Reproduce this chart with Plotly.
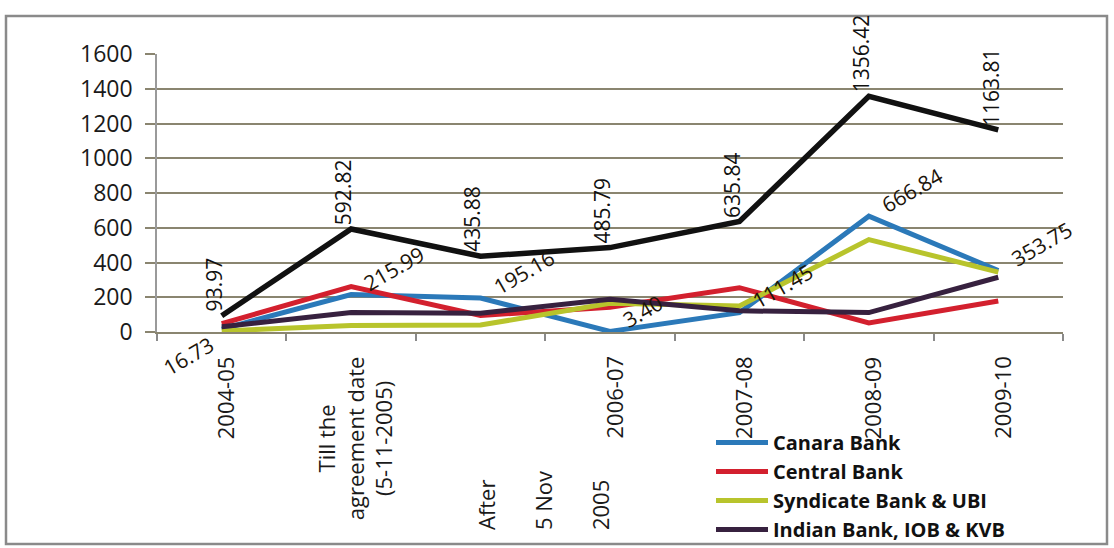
import plotly.graph_objects as go

# ---- data -------------------------------------------------------------
categories = [
    "2004-05",
    "Till the<br>agreement date<br>(5-11-2005)",
    "After<br><br>5 Nov<br><br>2005",
    "2006-07",
    "2007-08",
    "2008-09",
    "2009-10",
]
canara = [16.73, 215.99, 195.16, 3.40, 111.45, 666.84, 353.75]
central = [48, 262, 95, 143, 255, 52, 178]
syndicate = [6, 38, 40, 165, 150, 532, 345]
indian = [30, 112, 108, 188, 122, 112, 315]
total = [93.97, 592.82, 435.88, 485.79, 635.84, 1356.42, 1163.81]
y_ticks = [0, 200, 400, 600, 800, 1000, 1200, 1400, 1600]

series_names = ["Canara Bank", "Central Bank", "Syndicate Bank & UBI", "Indian Bank, IOB & KVB"]
series_values = [canara, central, syndicate, indian]
series_colors = ["#2b79b9", "#d3202e", "#b8c42c", "#37213f"]

# ---- geometry ---------------------------------------------------------
W, H = 1114, 548
L, R, T, B = 157, 51, 54, 216
plot_h = H - T - B
plot_w = W - L - R
FONT = "Open Sans"


def px_x(px):
    return (px - L) / plot_w


def px_y(py):
    return (H - B - py) / plot_h


x_idx = list(range(len(categories)))

fig = go.Figure()

for name, vals, col in zip(series_names, series_values, series_colors):
    fig.add_trace(go.Scatter(
        x=x_idx, y=vals, mode="lines", name=name,
        line=dict(color=col, width=5),
    ))

fig.add_trace(go.Scatter(
    x=x_idx, y=total, mode="lines", name="Total", showlegend=False,
    line=dict(color="#111111", width=5.5),
))

annotations = []

# category labels under the axis (rotated)
for i, lab in enumerate(categories):
    if "After" in lab:
        annotations.append(dict(
            x=i, y=0, xref="x", yref="paper", text=lab, showarrow=False,
            textangle=-90, xanchor="center", yanchor="top", align="left",
            xshift=62, yshift=-137,
            font=dict(family=FONT, size=22, color="#1a1a1a"),
        ))
    else:
        annotations.append(dict(
            x=i, y=0, xref="x", yref="paper", text=lab, showarrow=False,
            textangle=-90, xanchor="center", yanchor="top", align="center",
            xshift=3, yshift=-22,
            font=dict(family=FONT, size=22, color="#1a1a1a"),
        ))

# value labels on the total line
for i, v in enumerate(total):
    annotations.append(dict(
        x=i, y=v, xref="x", yref="y", text=f"{v:.2f}", showarrow=False,
        textangle=-90, xanchor="center", yanchor="bottom",
        xshift=-8, yshift=2,
        font=dict(family=FONT, size=21, color="#111111"),
    ))

# value labels on the Canara Bank line
for i, v in enumerate(canara):
    if i == 0:
        pos = dict(xanchor="right", yanchor="top", xshift=0, yshift=1)
    else:
        pos = dict(xanchor="left", yanchor="bottom", xshift=5, yshift=-5)
    annotations.append(dict(
        x=i, y=v, xref="x", yref="y", text=f"{v:.2f}", showarrow=False,
        textangle=-30, font=dict(family=FONT, size=21, color="#1c140a"),
        **pos,
    ))

shapes = [
    dict(type="rect", xref="paper", yref="paper",
         x0=px_x(6), x1=px_x(1107), y0=px_y(544), y1=px_y(16),
         line=dict(color="#8a8a8a", width=2.5), fillcolor="rgba(0,0,0,0)",
         layer="below"),
]

fig.update_layout(
    width=W, height=H,
    margin=dict(l=L, r=R, t=T, b=B, autoexpand=False),
    paper_bgcolor="white", plot_bgcolor="white",
    font=dict(family=FONT, color="#1a1a1a"),
    annotations=annotations,
    shapes=shapes,
    showlegend=True,
    legend=dict(
        x=px_x(711), y=px_y(423), xanchor="left", yanchor="top",
        xref="paper", yref="paper",
        bgcolor="rgba(255,255,255,0)", borderwidth=0,
        font=dict(family=FONT, size=20, color="#111111", weight="bold"),
        itemwidth=52, tracegroupgap=0,
    ),
)

fig.update_xaxes(
    range=[-0.5, len(categories) - 0.5],
    tickmode="array",
    tickvals=[i - 0.5 for i in range(len(categories) + 1)],
    showticklabels=False,
    ticks="outside", ticklen=7, tickwidth=1.5, tickcolor="#8a8a8a",
    showgrid=False, zeroline=False,
    showline=True, linecolor="#8a8570", linewidth=1.5,
)

fig.update_yaxes(
    range=[0, 1600],
    tickmode="array", tickvals=y_ticks, ticktext=[str(t) for t in y_ticks],
    ticks="outside", ticklen=10, tickwidth=1.5, tickcolor="#8a8570",
    tickfont=dict(family=FONT, size=23, color="#1a1a1a"),
    ticklabelstandoff=8,
    showgrid=True, gridcolor="#8a8570", gridwidth=1.5,
    zeroline=False,
    showline=True, linecolor="#9a9a9a", linewidth=1.5,
)

fig.write_html("out.html")
